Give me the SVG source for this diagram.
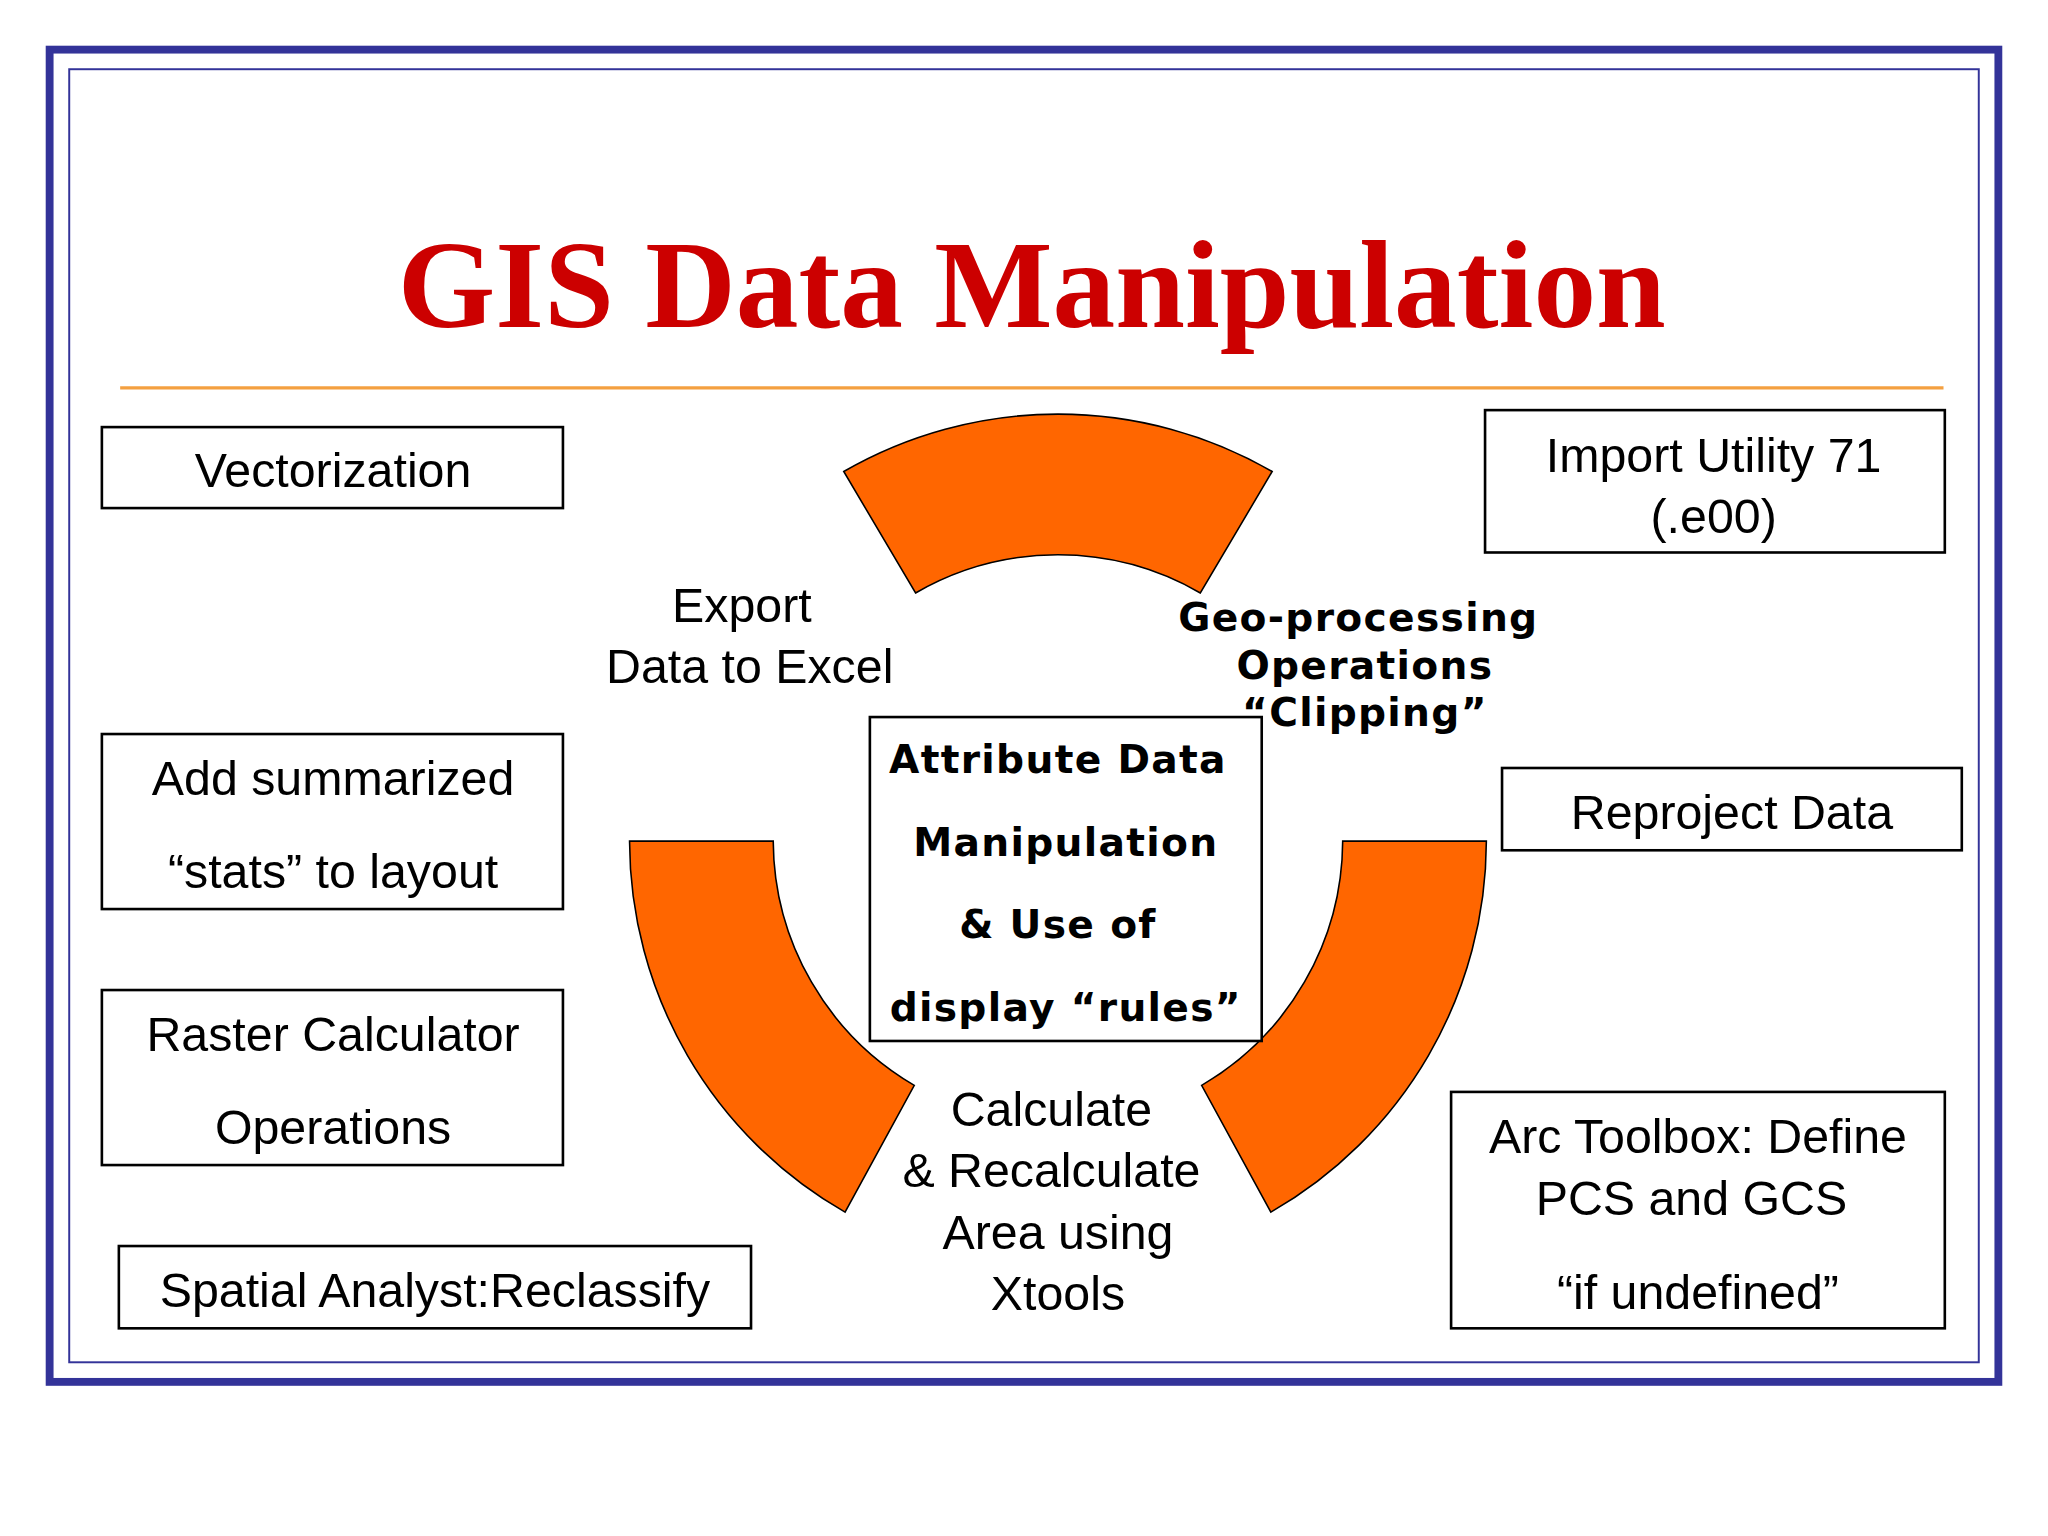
<svg xmlns="http://www.w3.org/2000/svg" width="2048" height="1536" viewBox="0 0 2048 1536">
<style>
.b{fill:#fff;stroke:#000;stroke-width:2}
.t{font-family:"Liberation Sans",Arial,sans-serif;font-size:37px;fill:#000;text-anchor:middle}
.d{font-family:"DejaVu Sans",Verdana,sans-serif;font-weight:bold;font-size:30px;fill:#000;text-anchor:middle;letter-spacing:1px}
.a{fill:#ff6600;stroke:#000;stroke-width:1.2}
</style>
<rect width="2048" height="1536" fill="#fff"/>
<g transform="scale(1.30612)">
<rect x="38" y="38" width="1492" height="1020" fill="#fff" stroke="#333399" stroke-width="6"/>
<rect x="53" y="53" width="1462" height="990" fill="none" stroke="#333399" stroke-width="1.5"/>
<text x="790" y="250" text-anchor="middle" font-family="Liberation Serif,'Times New Roman',serif" font-weight="bold" font-size="96" fill="#cc0000">GIS Data Manipulation</text>
<line x1="92" y1="297" x2="1488" y2="297" stroke="#f4a040" stroke-width="2.5"/>
<g id="arcs">
<path class="a" d="M646,361 A328,328 0 0 1 974,361 L919,454 A218,218 0 0 0 701,454 Z"/>
<path class="a" d="M482,644 A328,328 0 0 0 647,928 L700,831 A218,218 0 0 1 592,644 Z"/>
<path class="a" d="M1138,644 A328,328 0 0 1 973,928 L920,831 A218,218 0 0 0 1028,644 Z"/>
</g>
<g id="vectorization"><rect class="b" x="78" y="327" width="353" height="62"/><text class="t" x="255" y="373">Vectorization</text></g>
<g id="import"><rect class="b" x="1137" y="314" width="352" height="109"/><text class="t" x="1312" y="361">Import Utility 71</text><text class="t" x="1312" y="408">(.e00)</text></g>
<g id="summarized"><rect class="b" x="78" y="562" width="353" height="134"/><text class="t" x="255" y="609">Add summarized</text><text class="t" x="255" y="680">“stats” to layout</text></g>
<g id="raster"><rect class="b" x="78" y="758" width="353" height="134"/><text class="t" x="255" y="805">Raster Calculator</text><text class="t" x="255" y="876">Operations</text></g>
<g id="spatial"><rect class="b" x="91" y="954" width="484" height="63"/><text class="t" x="333" y="1001">Spatial Analyst:Reclassify</text></g>
<g id="reproject"><rect class="b" x="1150" y="588" width="352" height="63"/><text class="t" x="1326" y="635">Reproject Data</text></g>
<g id="arctoolbox"><rect class="b" x="1111" y="836" width="378" height="181"/><text class="t" x="1300" y="883">Arc Toolbox: Define</text><text class="t" x="1295" y="930">PCS and GCS</text><text class="t" x="1300" y="1002">“if undefined”</text></g>
<g id="center"><rect class="b" x="666" y="549" width="300" height="248"/>
<text class="d" x="810" y="592" font-size="32">Attribute Data</text>
<text class="d" x="816" y="655" font-size="32">Manipulation</text>
<text class="d" x="810" y="718" font-size="32">&amp; Use of</text>
<text class="d" x="816" y="782" font-size="32">display “rules”</text></g>
<g id="export"><text class="t" x="568" y="476">Export</text><text class="t" x="574" y="523">Data to Excel</text></g>
<g id="geo"><text class="d" x="1040" y="483">Geo-processing</text><text class="d" x="1045" y="520">Operations</text><text class="d" x="1045" y="556">“Clipping”</text></g>
<g id="calc"><text class="t" x="805" y="862">Calculate</text><text class="t" x="805" y="909">&amp; Recalculate</text><text class="t" x="810" y="956">Area using</text><text class="t" x="810" y="1003">Xtools</text></g>
<g id="connectors"/>
</g>
</svg>
